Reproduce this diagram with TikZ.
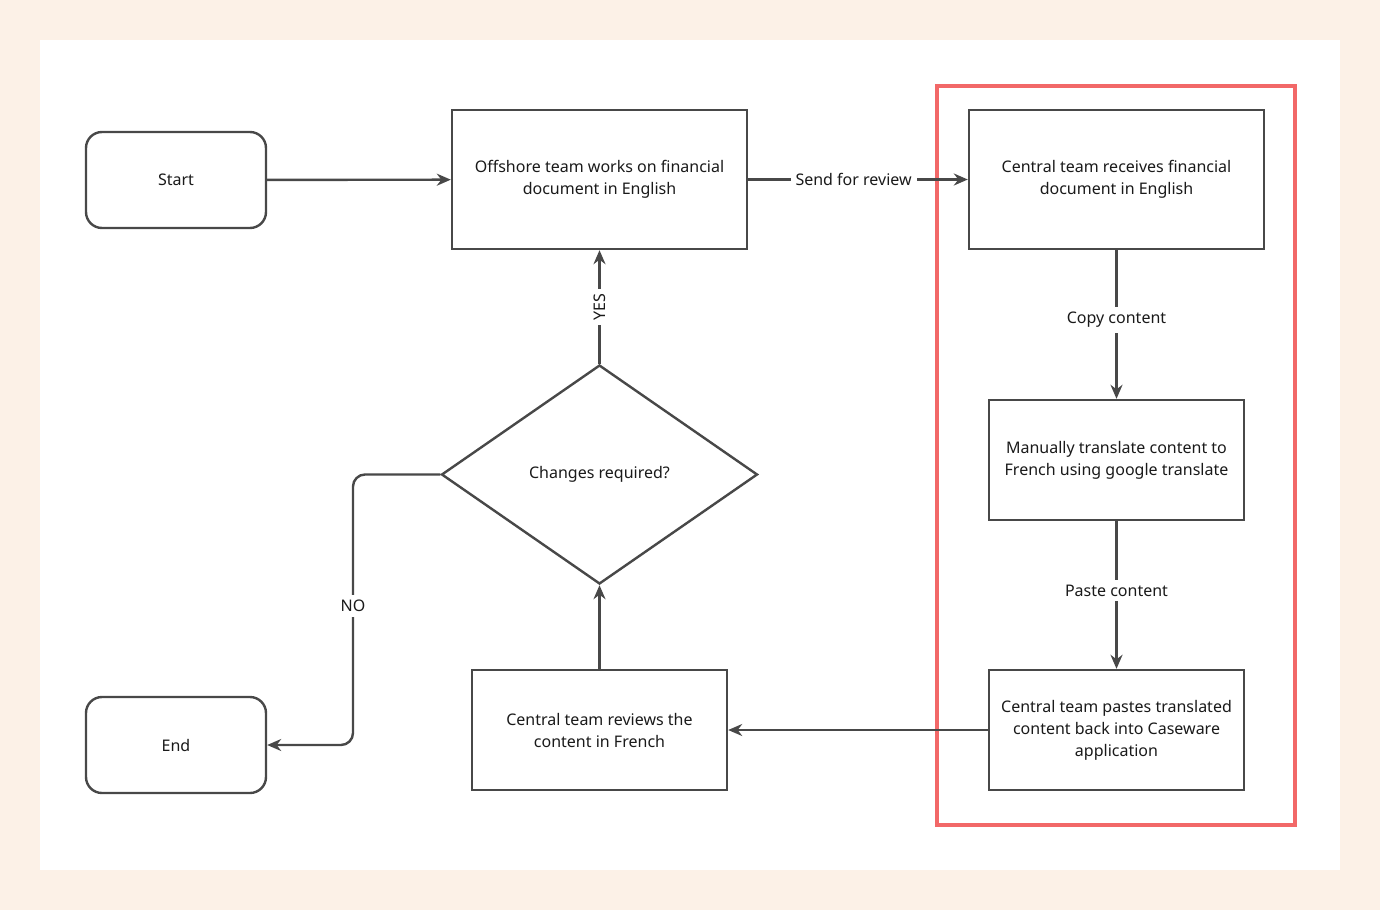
\documentclass[tikz,border=0pt]{standalone}
\usepackage{fontspec}
\setmainfont{Noto Sans}
\usetikzlibrary{arrows.meta}
\usetikzlibrary{shapes.geometric}
\definecolor{bgcream}{RGB}{252,241,231}
\definecolor{lgray}{RGB}{72,72,72}
\definecolor{mtext}{RGB}{26,26,26}
\definecolor{mred}{RGB}{242,104,104}
\tikzset{box/.style = {draw=lgray, line width=1.2pt, align=center, text=mtext,
                       minimum width=127.5pt, minimum height=60pt, inner sep=0pt},
         bigbox/.style = {box, minimum width=147.5pt, minimum height=69.5pt},
         term/.style = {box, rounded corners=8pt, minimum width=90pt, minimum height=48pt},
         flow/.style = {draw=lgray, line width=1.2pt, -{Stealth[length=7pt, width=6pt]}},
         lbl/.style = {fill=white, text=mtext, inner sep=2.5pt}}

\begin{document}
\begin{tikzpicture}[x=0.5pt, y=-0.5pt, font=\fontsize{8}{11}\selectfont]
    \fill [bgcream] (0, 0) rectangle (1380, 910);
    \fill [white] (40, 40) rectangle (1340, 870);
    \useasboundingbox (0, 0) rectangle (1380, 910);

    \draw [mred, line width=2pt] (937, 86) rectangle (1295, 825);

    \node [term] (start) at (176, 180) {Start};
    \node [term] (stop) at (176, 745) {End};
    \node [bigbox] (offshore) at (599.5, 179.5) {Offshore team works on financial\\document in English};
    \node [bigbox] (receive) at (1116.5, 179.5) {Central team receives financial\\document in English};
    \node [box] (translate) at (1116.5, 460) {Manually translate content to\\French using google translate};
    \node [box] (paste) at (1116.5, 730) {Central team pastes translated\\content back into Caseware\\application};
    \node [box] (review) at (599.5, 730) {Central team reviews the\\content in French};
    \node [draw=lgray, line width=1.2pt, diamond, aspect=1.443, inner sep=0pt,
           minimum width=158pt, minimum height=109.5pt, text=mtext] (changes) at (599.5, 474.5) {Changes required?};

    \draw [flow] (start) -- (offshore);
    \draw [flow] (offshore) -- node [lbl, pos=0.48] {Send for review} (receive);
    \draw [flow] (receive) -- node [lbl, pos=0.47] {Copy content} (translate);
    \draw [flow] (translate) -- node [lbl, pos=0.47] {Paste content} (paste);
    \draw [flow] (paste) -- (review);
    \draw [flow] (review) -- (changes);
    \draw [flow] (changes) -- node [lbl, rotate=90] {YES} (offshore);
    \draw [flow, rounded corners=6pt] (changes.west) -| (353, 606) node [lbl] {NO} |- (stop.east);
\end{tikzpicture}
\end{document}
